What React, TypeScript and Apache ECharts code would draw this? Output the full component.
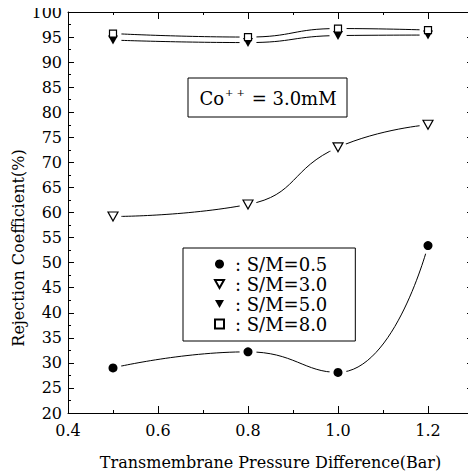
import React, { useEffect, useRef } from "react";
import * as echarts from "echarts";

const xValues = [0.5, 0.8, 1.0, 1.2];
const sm05 = [29.0, 32.2, 28.1, 53.4];
const sm30 = [59.2, 61.6, 73.0, 77.5];
const sm50 = [94.4, 93.9, 95.3, 95.4];
const sm80 = [95.7, 95.0, 96.7, 96.4];
const seriesNames = [": S/M=0.5", ": S/M=3.0", ": S/M=5.0", ": S/M=8.0"];
const yTitle = "Rejection Coefficient(%)";
const xTitle = "Transmembrane Pressure Difference(Bar)";

const FONT = "DejaVu Serif";
const TRI_DOWN = "path://M0,0L10,0L5,9Z";

export default function App() {
  const ref = useRef<HTMLDivElement>(null);
  useEffect(() => {
    if (!ref.current) return;
    const chart = echarts.init(ref.current, null, { renderer: "svg" });
    const sets = [sm05, sm30, sm50, sm80];
    const markers = [
      { symbol: "circle", size: 9, fill: "#000", border: "#000", bw: 0 },
      { symbol: TRI_DOWN, size: [10, 9], fill: "#fff", border: "#000", bw: 1.2 },
      { symbol: TRI_DOWN, size: [10, 9], fill: "#000", border: "#000", bw: 0 },
      { symbol: "rect", size: 7, fill: "#fff", border: "#000", bw: 1.2 },
    ];
    const pts = (arr: number[]) => xValues.map((x, i) => [x, arr[i]]);
    const series: any[] = [];
    sets.forEach((arr) => {
      series.push({
        type: "line",
        data: pts(arr),
        smooth: 0.5,
        showSymbol: false,
        silent: true,
        z: 2,
        lineStyle: { color: "#000", width: 1 },
      });
    });
    sets.forEach((arr) => {
      series.push({
        type: "scatter",
        data: pts(arr),
        symbol: "circle",
        symbolSize: 17,
        silent: true,
        z: 3,
        itemStyle: { color: "#fff", opacity: 1 },
      });
    });
    sets.forEach((arr, i) => {
      const m = markers[i];
      series.push({
        type: "scatter",
        name: seriesNames[i],
        data: pts(arr),
        symbol: m.symbol,
        symbolSize: m.size,
        z: 4,
        itemStyle: { color: m.fill, borderColor: m.border, borderWidth: m.bw, opacity: 1 },
      });
    });

    const axisLine = { show: true, lineStyle: { color: "#000", width: 1 } };
    chart.setOption({
      animation: false,
      grid: { left: 68, right: 2, top: 12, bottom: 57, containLabel: false },
      xAxis: [
        {
          type: "value", min: 0.4, max: 1.3, interval: 0.1, position: "bottom",
          axisLine,
          axisTick: { show: true, inside: true, length: 3, lineStyle: { color: "#000" } },
          splitLine: { show: false },
          axisLabel: {
            color: "#000", fontFamily: FONT, fontSize: 16, margin: 9,
            formatter: (v: number) => {
              const k = Math.round(v * 10);
              return k % 2 === 0 && k <= 12 ? (k / 10).toFixed(1) : "";
            },
          },
          name: xTitle, nameLocation: "middle", nameGap: 41,
          nameTextStyle: { color: "#000", fontFamily: FONT, fontSize: 16 },
        },
        {
          type: "value", min: 0.4, max: 1.3, interval: 0.2, position: "bottom",
          axisLine: { show: false },
          axisTick: { show: true, inside: true, length: 7, lineStyle: { color: "#000" } },
          splitLine: { show: false }, axisLabel: { show: false },
        },
        {
          type: "value", min: 0.4, max: 1.3, interval: 0.1, position: "top",
          axisLine,
          axisTick: { show: true, inside: true, length: 3, lineStyle: { color: "#000" } },
          splitLine: { show: false }, axisLabel: { show: false },
        },
        {
          type: "value", min: 0.4, max: 1.3, interval: 0.2, position: "top",
          axisLine: { show: false },
          axisTick: { show: true, inside: true, length: 7, lineStyle: { color: "#000" } },
          splitLine: { show: false }, axisLabel: { show: false },
        },
      ],
      yAxis: [
        {
          type: "value", min: 20, max: 100, interval: 5, position: "left",
          axisLine,
          axisTick: { show: true, inside: true, length: 6, lineStyle: { color: "#000" } },
          minorTick: { show: true, splitNumber: 2, length: 3, lineStyle: { color: "#000" } },
          splitLine: { show: false }, minorSplitLine: { show: false },
          axisLabel: { color: "#000", fontFamily: FONT, fontSize: 16, margin: 6 },
        },
        {
          type: "value", min: 20, max: 100, interval: 5, position: "right",
          axisLine,
          axisTick: { show: true, inside: true, length: 6, lineStyle: { color: "#000" } },
          minorTick: { show: true, splitNumber: 2, length: 3, lineStyle: { color: "#000" } },
          splitLine: { show: false }, minorSplitLine: { show: false },
          axisLabel: { show: false },
        },
      ],
      legend: {
        data: seriesNames,
        orient: "vertical",
        left: 183,
        top: 248,
        padding: [7, 28, 8, 31],
        itemGap: 2,
        itemWidth: 9,
        itemHeight: 9,
        borderColor: "#000",
        borderWidth: 1,
        backgroundColor: "#fff",
        textStyle: { color: "#000", fontFamily: FONT, fontSize: 18, padding: [0, 0, 0, 6] },
        selectedMode: false,
      },
      graphic: [
        {
          type: "rect",
          shape: { x: 188, y: 78, width: 159, height: 39 },
          style: { fill: "#fff", stroke: "#000", lineWidth: 1 },
          z: 10,
        },
        {
          type: "text",
          x: 268, y: 98, z: 11,
          style: {
            text: "{n|Co}{s|+ +}{n| = 3.0mM}",
            align: "center", verticalAlign: "middle",
            rich: {
              n: { fontFamily: FONT, fontSize: 18, fill: "#000" },
              s: { fontFamily: FONT, fontSize: 10, fill: "#000", padding: [0, 1, 12, 1] },
            },
          },
        },
        {
          type: "text",
          x: 18, y: 248, rotation: Math.PI / 2,
          style: {
            text: yTitle, fontFamily: FONT, fontSize: 16, fill: "#000",
            align: "center", verticalAlign: "middle",
          },
        },
      ],
      series,
    });
    return () => chart.dispose();
  }, []);
  return <div ref={ref} style={{ width: 476, height: 475, marginLeft: -8, marginTop: -8 }} />;
}
